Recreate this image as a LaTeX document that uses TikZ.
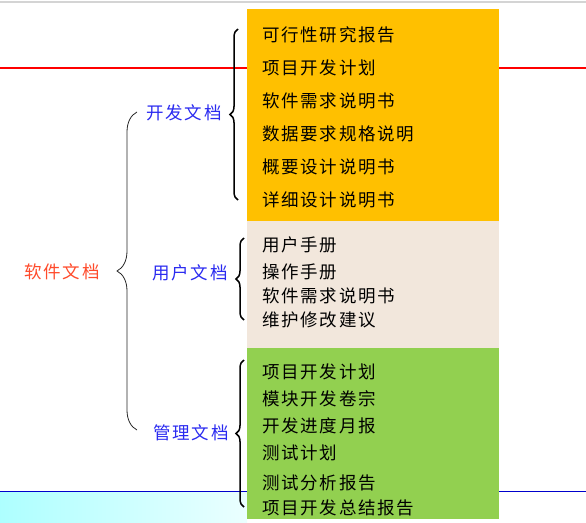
\documentclass[tikz,border=0pt]{standalone}
\usepackage{fontspec}
\setmainfont{Noto Sans CJK SC}
\newfontfamily\cjkspaced[LetterSpace=10]{Noto Sans CJK SC}
\usetikzlibrary{decorations.pathreplacing}

\definecolor{devorange}{HTML}{FFC000}
\definecolor{userbeige}{HTML}{F2E7DC}
\definecolor{mgmtgreen}{HTML}{92D050}
\definecolor{docblue}{HTML}{2A2AF0}
\definecolor{docred}{HTML}{FF4A2A}
\definecolor{linegray}{HTML}{D4D4D4}
\definecolor{lineblue}{HTML}{0000CC}

\tikzset{
  docbox/.style={anchor=north west, inner sep=0pt, minimum width=252pt},
  item/.style={anchor=west, inner sep=0pt, font=\cjkspaced\fontsize{17.5}{20}\selectfont},
  group/.style={inner sep=0pt, text=docblue, font=\cjkspaced\fontsize{17.5}{20}\selectfont},
  bigbrace/.style={decorate, decoration={brace, amplitude=20pt}, line width=0.8pt, black!85},
  smallbrace/.style={decorate, decoration={brace, amplitude=8pt}, line width=1.5pt},
}

\begin{document}
\begin{tikzpicture}[x=1pt, y=-1pt]
        \useasboundingbox (0,0) rectangle (586,522);

        % Background lines
        \draw[linegray, line width=1.2pt] (0,2) -- (586,2);
        \draw[red, line width=2pt] (0,67.5) -- (586,67.5);
        \shade[left color=cyan!32, right color=cyan!8] (0,491) rectangle (247,522);
        \draw[lineblue, line width=1.4pt] (0,491.5) -- (586,491.5);

        % Boxes
        \node[docbox, fill=devorange, minimum height=212pt] (devbox) at (247,9) {};
        \node[docbox, fill=userbeige, minimum height=127pt] (userbox) at (247,221) {};
        \node[docbox, fill=mgmtgreen, minimum height=171pt] (mgmtbox) at (247,348) {};

        % Items
        \foreach \t [count=\i] in {可行性研究报告, 项目开发计划, 软件需求说明书,
                                   数据要求规格说明, 概要设计说明书, 详细设计说明书}
            \node[item] (dev\i) at (262, 2+33*\i) {\t};
        \foreach \y/\t [count=\i] in {245/用户手册, 272/操作手册,
                                      296/软件需求说明书, 320/维护修改建议}
            \node[item] (user\i) at (262, \y) {\t};
        \foreach \y/\t [count=\i] in {372/项目开发计划, 399/模块开发卷宗, 426/开发进度月报,
                                      453/测试计划, 483/测试分析报告, 508/项目开发总结报告}
            \node[item] (mgmt\i) at (262, \y) {\t};

        % Groups
        \node[group, text=docred] (all) at (62,272) {软件文档};
        \node[group] (dev) at (184,113) {开发文档};
        \node[group] (user) at (190,273) {用户文档};
        \node[group] (mgmt) at (191,433) {管理文档};

        % Braces
        \coordinate (alltop) at (137,112);
        \coordinate (allbot) at (137,430);
        \coordinate (devtop) at (238,29);
        \coordinate (devbot) at (238,200);
        \coordinate (usertop) at (244,238);
        \coordinate (userbot) at (244,320);
        \coordinate (mgmttop) at (244,360);
        \coordinate (mgmtbot) at (244,507);
        \draw[bigbrace] (allbot) -- (alltop);
        \draw[smallbrace] (devbot) -- (devtop);
        \draw[smallbrace] (userbot) -- (usertop);
        \draw[smallbrace] (mgmtbot) -- (mgmttop);

\end{tikzpicture}
\end{document}
